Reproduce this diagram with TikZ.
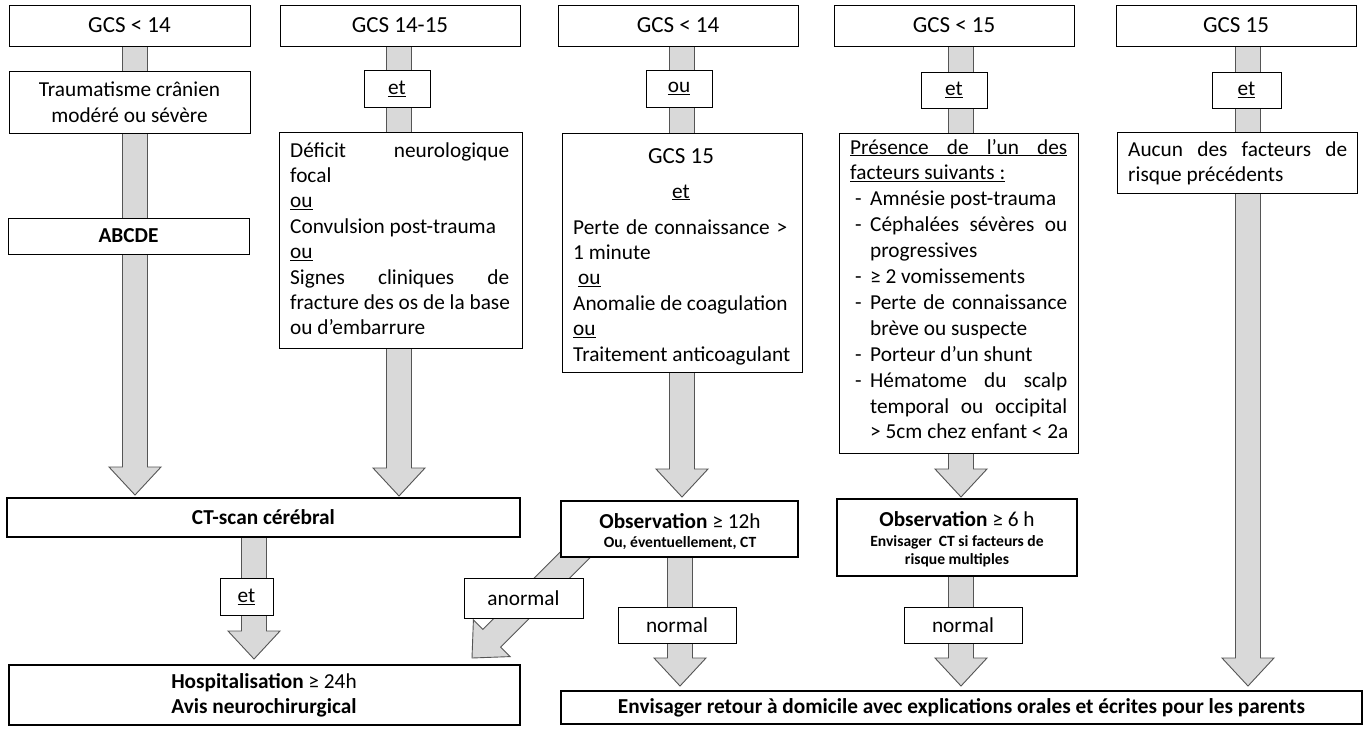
\documentclass[tikz,border=0pt]{standalone}
\usepackage{fontspec}
\setmainfont{Carlito}
\usetikzlibrary{calc}
\pgfdeclarelayer{paper}
\pgfdeclarelayer{bg}
\pgfsetlayers{paper,bg,main}
\definecolor{arrfill}{HTML}{D9D9D9}
\definecolor{arrline}{HTML}{555555}
\tikzset{
  box/.style={draw=black, line width=0.9pt, fill=white, inner sep=0pt, align=center, font=\fontsize{21.3}{25.5}\selectfont},
  topbox/.style={box, font=\fontsize{23}{27}\selectfont},
  bbox/.style={box, line width=1.8pt},
  txt/.style={inner sep=0pt, font=\fontsize{21.3}{25.5}\selectfont},
  bigtxt/.style={inner sep=0pt, font=\fontsize{23}{27}\selectfont},
  smalltxt/.style={inner sep=0pt, font=\fontsize{15.6}{18}\selectfont\bfseries},
  fat/.style={fill=arrfill, draw=arrline, line width=0.9pt, line join=miter},
}
\newcommand{\mkbox}[7]{%
  \pgfmathsetmacro{\bcx}{(#3+#5)/2}%
  \pgfmathsetmacro{\bcy}{(#4+#6)/2}%
  \pgfmathsetmacro{\bw}{#5-#3}%
  \pgfmathsetmacro{\bh}{#6-#4}%
  \node[#1, minimum width=\bw pt, minimum height=\bh pt] (#2) at (\bcx,\bcy) {#7};}
\newcommand{\fatarr}[2]{%
  \coordinate (fh) at ($(#2)!28pt!(#1)$);
  \begin{pgfonlayer}{bg}
  \draw[fat] ($(#1)!12.5pt!90:(#2)$) -- ($(fh)!12.5pt!90:(#2)$) -- ($(fh)!26pt!90:(#2)$) -- (#2)
     -- ($(fh)!26pt!-90:(#2)$) -- ($(fh)!12.5pt!-90:(#2)$) -- ($(#1)!12.5pt!-90:(#2)$) -- cycle;
  \end{pgfonlayer}}
\newcommand{\itm}{\hspace*{5pt}\makebox[15pt][l]{-}}
\newcommand{\cnt}{\hspace*{20pt}}
\begin{document}
\begin{tikzpicture}[x=1pt, y=-1pt]
\useasboundingbox (0,0) rectangle (1369,729);
\begin{pgfonlayer}{paper}
\fill[white] (0,0) rectangle (1369,729);
\end{pgfonlayer}
% top row
\mkbox{topbox}{g1}{9}{5}{250}{46}{GCS < 14}
\mkbox{topbox}{g2}{280}{5}{520}{46}{GCS 14-15}
\mkbox{topbox}{g3}{558}{5}{798}{46}{GCS < 14}
\mkbox{topbox}{g4}{834}{5}{1074}{46}{GCS < 15}
\mkbox{topbox}{g5}{1116}{5}{1356}{46}{GCS 15}
% column 1
\mkbox{box}{trauma}{9}{71}{250}{133}{Traumatisme crânien\\modéré ou sévère}
\mkbox{box}{abcde}{8}{218}{249}{254}{\textbf{ABCDE}}
% column 2
\mkbox{box}{et2}{364}{70}{430}{107}{\underline{et}}
\mkbox{box}{c2}{279}{132}{522}{348}{}
\node[txt, anchor=base west] (t2) at (290,157) {\parbox[t]{260pt}{\raggedright\fontsize{21.3}{25.4}\selectfont
\makebox[219pt][s]{Déficit neurologique}\\
focal\\
\underline{ou}\\
Convulsion post-trauma\\
\underline{ou}\\
\makebox[219pt][s]{Signes cliniques de}\\
fracture des os de la base\\
ou d’embarrure}};
% column 3
\mkbox{box}{ou3}{646}{70}{712}{107}{\underline{ou}}
\mkbox{box}{c3}{562}{133}{802}{372}{}
\node[bigtxt, anchor=base] (t3a) at (681,163) {GCS 15};
\node[txt, anchor=base] (t3b) at (681,198) {\underline{et}};
\node[txt, anchor=base west] (t3c) at (573,234) {\parbox[t]{260pt}{\raggedright\fontsize{21.3}{25.4}\selectfont
\makebox[214pt][s]{Perte de connaissance >}\\
1 minute\\
\hspace*{5pt}\underline{ou}\\
Anomalie de coagulation\\
\underline{ou}\\
Traitement anticoagulant}};
% column 4
\mkbox{box}{et4}{921}{72}{987}{108}{\underline{et}}
\mkbox{box}{c4}{839}{133}{1078}{453}{}
\node[txt, anchor=base west] (t4) at (850,154) {\parbox[t]{260pt}{\raggedright\fontsize{21.3}{25.9}\selectfont
\underline{\makebox[217pt][s]{Présence de l’un des}}\\
\underline{facteurs suivants :}\\
\itm Amnésie post-trauma\\
\itm\makebox[197pt][s]{Céphalées sévères ou}\\
\cnt progressives\\
\itm ≥ 2 vomissements\\
\itm\makebox[197pt][s]{Perte de connaissance}\\
\cnt brève ou suspecte\\
\itm Porteur d’un shunt\\
\itm\makebox[197pt][s]{Hématome du scalp}\\
\cnt\makebox[197pt][s]{temporal ou occipital}\\
\cnt > 5cm chez enfant < 2a}};
% column 5
\mkbox{box}{et5}{1212}{72}{1281}{108}{\underline{et}}
\mkbox{box}{c5}{1117}{132}{1357}{193}{}
\node[txt, anchor=base west] (t5) at (1128,156) {\parbox[t]{260pt}{\raggedright\fontsize{21.3}{25}\selectfont
\makebox[219pt][s]{Aucun des facteurs de}\\
risque précédents}};
% middle row
\mkbox{bbox}{ct}{7}{498}{520}{537}{\textbf{CT-scan cérébral}}
\mkbox{bbox}{obs12}{561}{501}{798}{557}{}
\node[txt] (o12a) at (680,521) {\textbf{Observation} ≥ 12h};
\node[smalltxt] (o12b) at (680,543) {Ou, éventuellement, CT};
\mkbox{bbox}{obs6}{837}{499}{1077}{576}{}
\node[txt] (o6a) at (957,519) {\textbf{Observation} ≥ 6 h};
\node[smalltxt] (o6b) at (957,542) {Envisager\ \ CT si facteurs de};
\node[smalltxt] (o6c) at (957,560) {risque multiples};
% bottom labels
\mkbox{box}{et1}{220}{578}{273}{615}{\underline{et}}
\mkbox{box}{anorm}{464}{578}{583}{618}{anormal}
\mkbox{box}{norm3}{618}{607}{736}{643}{normal}
\mkbox{box}{norm4}{904}{607}{1022}{643}{normal}
% bottom boxes
\mkbox{bbox}{hosp}{9}{665}{520}{725}{}
\node[txt] (h1) at (264,683) {\textbf{Hospitalisation} ≥ 24h};
\node[txt] (h2) at (264,708) {\textbf{Avis neurochirurgical}};
\mkbox{bbox}{env}{561}{691}{1362}{724}{\textbf{Envisager retour à domicile avec explications orales et écrites pour les parents}}
% arrow coordinates
\coordinate (a1s) at (135,30);   \coordinate (a1e) at (135,495);
\coordinate (a2s) at (399,30);   \coordinate (a2e) at (399,496);
\coordinate (a3s) at (682,30);   \coordinate (a3e) at (682,497);
\coordinate (a4s) at (961,30);   \coordinate (a4e) at (961,497);
\coordinate (a5s) at (1248,30);  \coordinate (a5e) at (1248,686);
\coordinate (b1s) at (254,520);  \coordinate (b1e) at (254,659);
\coordinate (b2s) at (680,530);  \coordinate (b2e) at (680,686);
\coordinate (b3s) at (961,540);  \coordinate (b3e) at (961,686);
\coordinate (b4s) at (600,530);  \coordinate (b4e) at (472,658);
\fatarr{a1s}{a1e}
\fatarr{a2s}{a2e}
\fatarr{a3s}{a3e}
\fatarr{a4s}{a4e}
\fatarr{a5s}{a5e}
\fatarr{b1s}{b1e}
\fatarr{b2s}{b2e}
\fatarr{b3s}{b3e}
\fatarr{b4s}{b4e}
\end{tikzpicture}
\end{document}
